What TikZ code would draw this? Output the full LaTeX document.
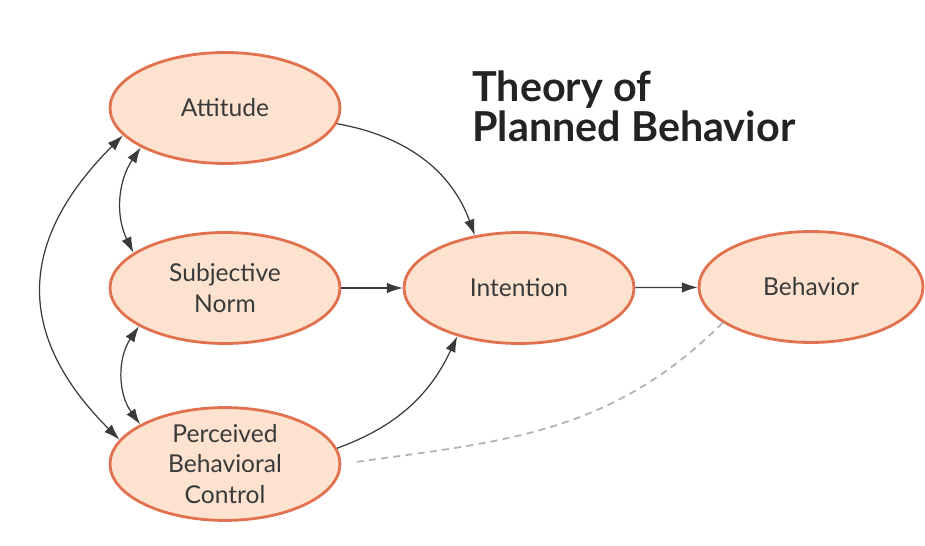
\documentclass[tikz,border=0pt]{standalone}
\usepackage{fontspec}
\setmainfont{Lato}
\usetikzlibrary{shapes,arrows.meta,positioning}
\newcommand{\ew}{4.6cm}
\newcommand{\eh}{2.22cm}
\definecolor{peach}{HTML}{FCE2CF}
\definecolor{rim}{HTML}{E2714F}
\definecolor{ink}{HTML}{3A3A3A}
\tikzset{
  oval/.style={ellipse,draw=rim,fill=peach,line width=1.6pt,minimum width=\ew,
    minimum height=\eh,inner sep=0pt,align=center,text=ink,
    font=\fontsize{14}{17.5}\selectfont},
  link/.style={->,draw=ink,line width=0.7pt},
  both/.style={<->,draw=ink,line width=0.7pt},
  hint/.style={draw=gray!60,line width=1pt,dash pattern=on 4pt off 3pt,shorten >=7pt}
}

\begin{document}
\begin{tikzpicture}[x=0.02cm,y=0.02cm,>={Latex[length=9pt,width=6pt]}]
  \useasboundingbox (0,0) rectangle (925,-546);

  \node[oval] (att) at (225,-108) {Attitude};
  \node[oval] (sn)  at (225,-288) {Subjective\\Norm};
  \node[oval] (pbc) at (225,-464) {Perceived\\Behavioral\\Control};
  \node[oval] (int) at (519,-288) {Intention};
  \node[oval,minimum width=4.48cm] (beh) at (811,-287) {Behavior};
  \node[anchor=north west,align=left,inner sep=0pt,text=ink!60!black,
    font=\bfseries\fontsize{23.5}{23}\selectfont] (ttl) at (472,-70) {Theory of\\Planned Behavior};

  \draw[both] (att.205) to[bend right=30] (sn.159);
  \draw[both] (sn.204) to[bend right=35] (pbc.155);
  \draw[both] (att.195) to[out=225,in=135,looseness=1.25] (pbc.167);
  \draw[link] (att.352) to[out=-10,in=110] (int.130);
  \draw[link] (sn) -- (int);
  \draw[link] (pbc.8) to[out=20,in=-115] (int.218);
  \draw[link] (int) -- (beh);
  \draw[hint] (beh.202) to[out=225,in=8] (pbc.east);
\end{tikzpicture}
\end{document}
